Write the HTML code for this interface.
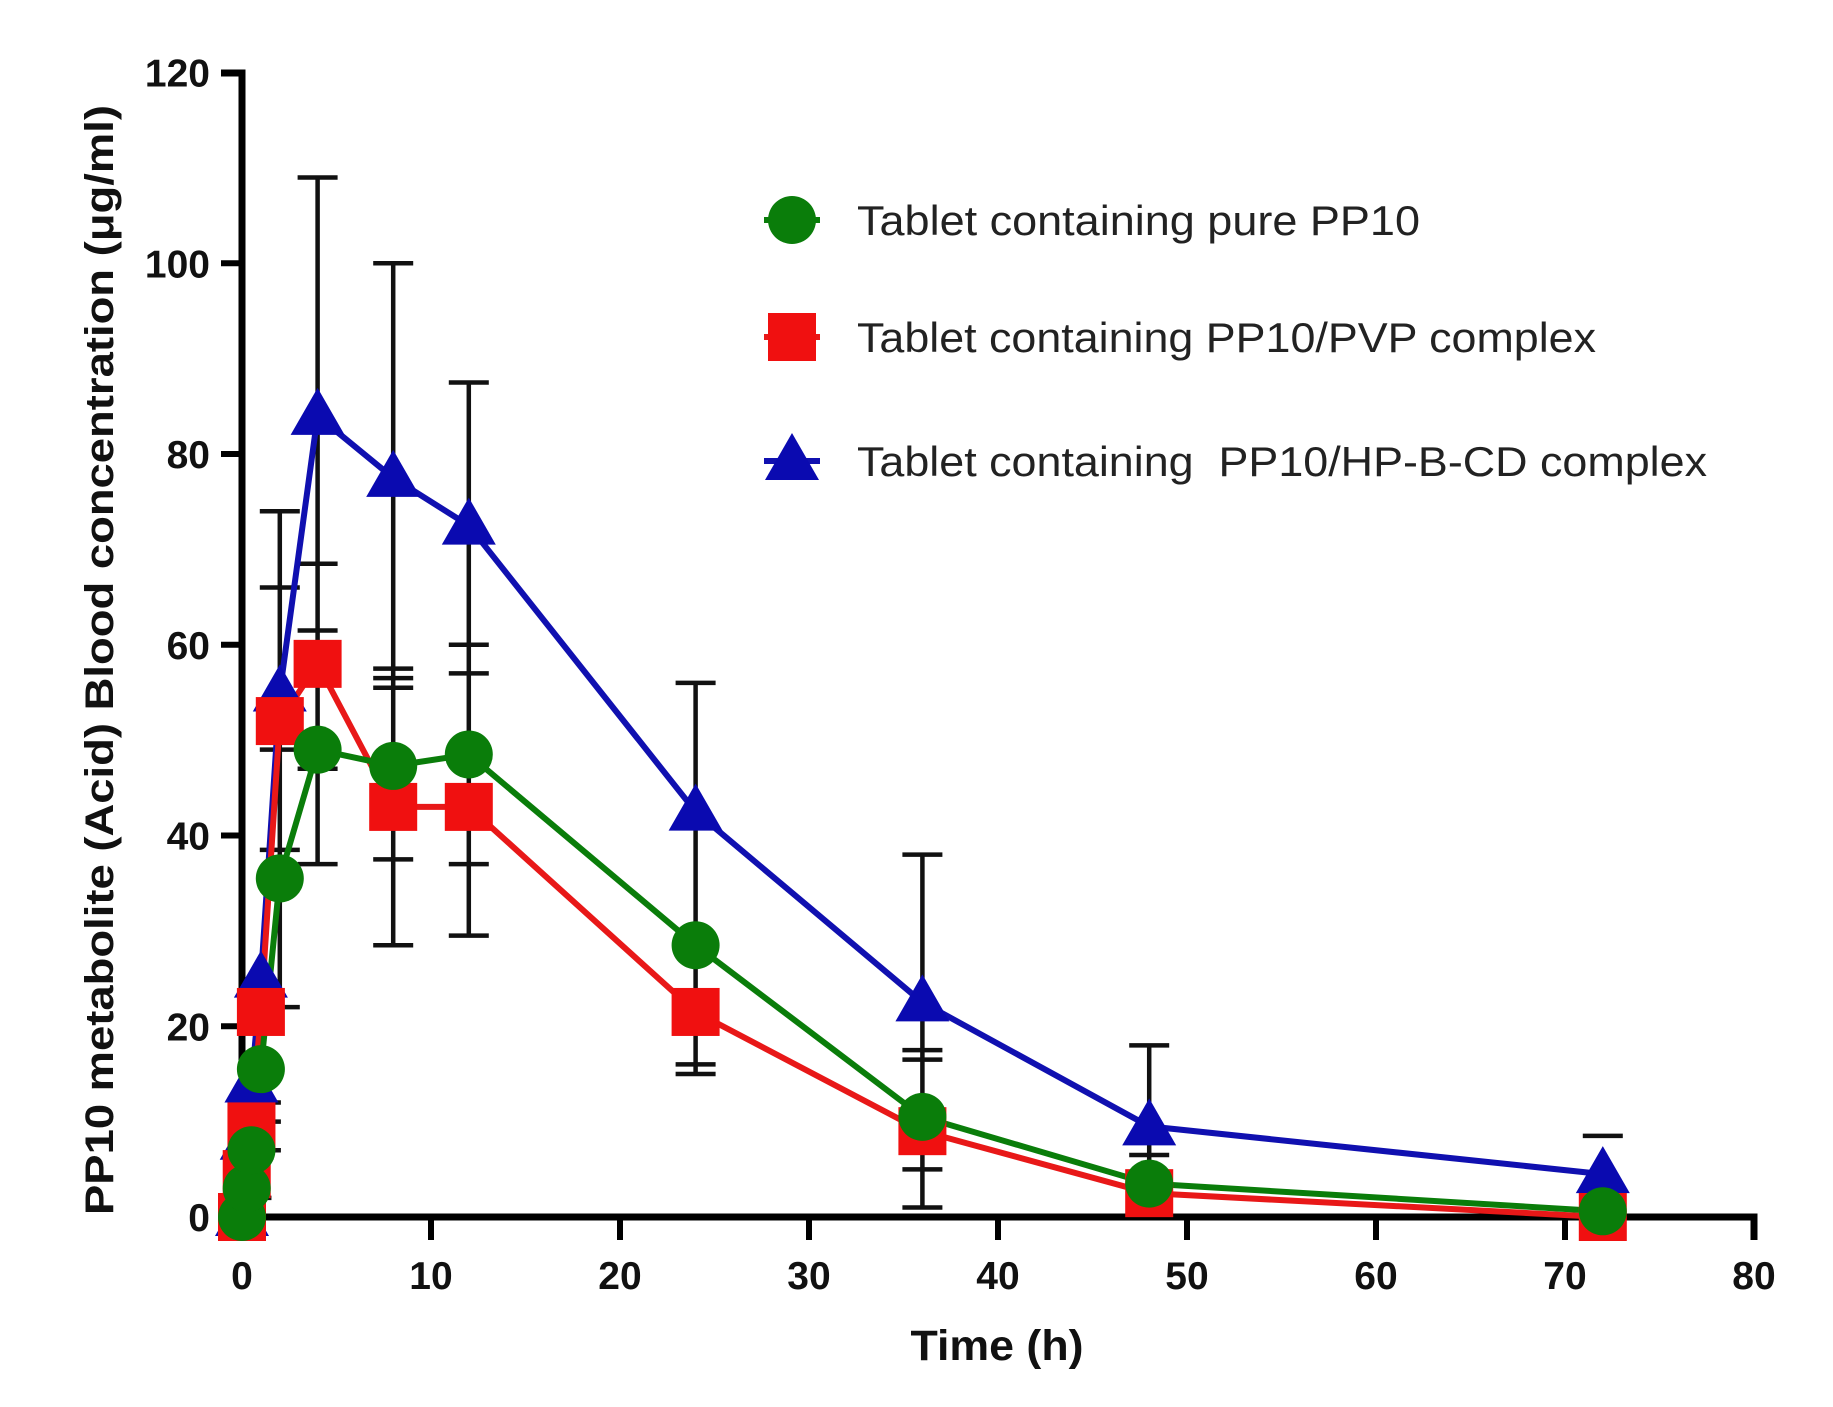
<!DOCTYPE html>
<html><head><meta charset="utf-8"><style>
html,body{margin:0;padding:0;background:#fff;}
svg{display:block;}
</style></head><body>
<svg id="s" xmlns="http://www.w3.org/2000/svg" width="1833" height="1407" viewBox="0 0 1833 1407"></svg>
<script>
const X=h=>242+h*18.9, Y=v=>1217-v*9.537;
let o='';
const T=[0,0.25,0.5,1,2,4,8,12,24,36,48,72];
const G=[0,3,7,15.5,35.5,49,47.3,48.5,28.5,10.5,3.5,0.6];
const R=[0,4.5,9.5,21.5,52,58,43,43,21.5,9,2.5,0];
const B=[0,8,14,25,55,84,77.5,72.5,42.5,22.5,9.5,4.5];
const EB={0.5:[6,13,2],1:[24,22,15.5,10,7,12],2:[74,66,49,38.5,36.5,22],4:[109,68.5,61.5,47,37],8:[100,57.5,56.5,55.5,37.5,28.5],12:[87.5,60,57,37,29.5],24:[56,41,16,15],36:[38,17.5,16.5,5,1],48:[18,6.5,1],72:[8.5]};
for(const k in EB){const t=+k,v=EB[k];const mx=Math.max(...v),mn=Math.min(...v);
o+=`<line x1="${X(t)}" y1="${Y(mx)}" x2="${X(t)}" y2="${Y(mn)}" stroke="#111" stroke-width="4.5"/>`;
v.forEach(c=>o+=`<line x1="${X(t)-20}" y1="${Y(c)}" x2="${X(t)+20}" y2="${Y(c)}" stroke="#111" stroke-width="4.5"/>`);}
o+=`<path d="M221 73 H242 V1217 H1754 V1240" fill="none" stroke="#000" stroke-width="7"/>`;
const F='font-family="Liberation Sans,sans-serif" font-weight="bold" fill="#111"';
for(let v=0;v<=120;v+=20){o+=`<line x1="221" y1="${Y(v)}" x2="242" y2="${Y(v)}" stroke="#000" stroke-width="6"/>`;
o+=`<text x="210" y="${Y(v)+14}" text-anchor="end" ${F} font-size="39">${v}</text>`;}
for(let h=0;h<=80;h+=10){if(h>0)o+=`<line x1="${X(h)}" y1="1217" x2="${X(h)}" y2="1240" stroke="#000" stroke-width="6"/>`;
o+=`<text x="${X(h)}" y="1289" text-anchor="middle" ${F} font-size="39">${h}</text>`;}
o+=`<text x="997" y="1360" text-anchor="middle" ${F} font-size="43" textLength="173" lengthAdjust="spacingAndGlyphs">Time (h)</text>`;
o+=`<text transform="translate(113,660) rotate(-90)" text-anchor="middle" ${F} font-size="40" textLength="1110" lengthAdjust="spacingAndGlyphs">PP10 metabolite (Acid) Blood concentration (μg/ml)</text>`;
function line(d,c){o+=`<polyline points="${T.map((t,i)=>X(t)+','+Y(d[i])).join(' ')}" fill="none" stroke="${c}" stroke-width="6" stroke-linejoin="round"/>`;}
const circ=(x,y)=>`<circle cx="${x}" cy="${y}" r="24" fill="#0a7d0a"/>`;
const sq=(x,y)=>`<rect x="${x-24}" y="${y-24}" width="48" height="48" fill="#f01010"/>`;
const tri=(x,y)=>`<polygon points="${x},${y-28} ${x-27},${y+19} ${x+27},${y+19}" fill="#0a0ab0"/>`;
line(B,'#1010b0');line(R,'#e81818');line(G,'#0a7d0a');
T.forEach((t,i)=>o+=tri(X(t),Y(B[i])));
T.forEach((t,i)=>o+=sq(X(t),Y(R[i])));
T.forEach((t,i)=>o+=circ(X(t),Y(G[i])));
const L=[[220,circ,'#0a7d0a','Tablet containing pure PP10',563],[337,sq,'#e81818','Tablet containing PP10/PVP complex',739],[461,tri,'#1010b0','Tablet containing  PP10/HP-B-CD complex',850]];
L.forEach(([y,f,c,s,w])=>{o+=`<line x1="764" y1="${y}" x2="820" y2="${y}" stroke="${c}" stroke-width="6"/>`+f(792,y);
o+=`<text x="857" y="${y+15}" font-family="Liberation Sans,sans-serif" font-size="42" fill="#222" textLength="${w}" lengthAdjust="spacingAndGlyphs" xml:space="preserve">${s}</text>`;});
document.getElementById('s').innerHTML=o;
</script>
</body></html>
